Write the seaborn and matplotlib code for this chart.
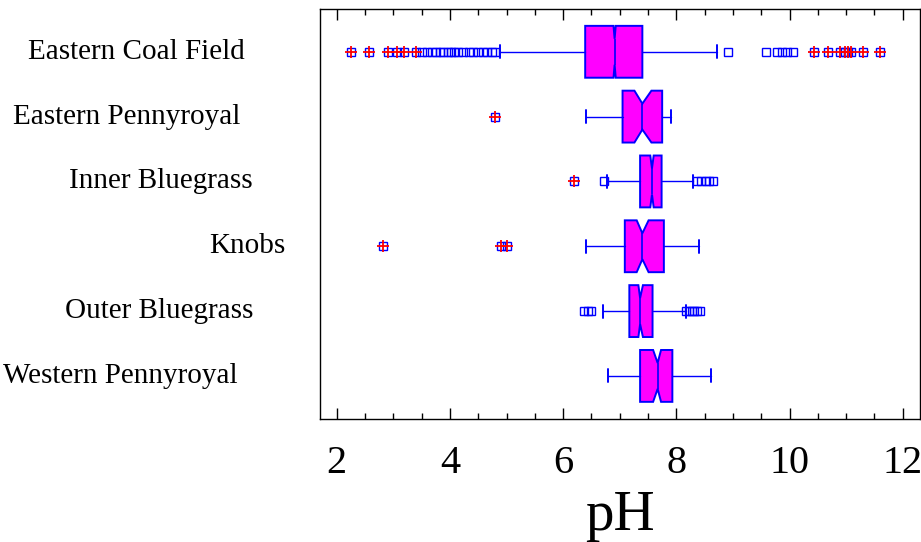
import matplotlib
matplotlib.use("Agg")
import matplotlib.pyplot as plt
import matplotlib.transforms as mtrans
from matplotlib.ticker import MultipleLocator
import seaborn as sns

# ---- data ----
regions = ["Eastern Coal Field", "Eastern Pennyroyal", "Inner Bluegrass",
           "Knobs", "Outer Bluegrass", "Western Pennyroyal"]
q1 = [6.39, 7.05, 7.36, 7.09, 7.17, 7.36]
median = [6.91, 7.40, 7.57, 7.40, 7.36, 7.67]
q3 = [7.40, 7.75, 7.74, 7.78, 7.58, 7.93]
notch_lo = [6.89, 7.26, 7.54, 7.30, 7.33, 7.59]
notch_hi = [6.93, 7.56, 7.60, 7.51, 7.41, 7.73]
whisker_lo = [4.89, 6.40, 6.77, 6.40, 6.70, 6.79]
whisker_hi = [8.72, 7.91, 8.30, 8.40, 8.17, 8.61]

# mild outliers (squares only)
mild_outliers = [
    [3.50, 3.59, 3.68, 3.76, 3.82, 3.88, 3.97, 4.02, 4.07, 4.15, 4.24, 4.34,
     4.41, 4.50, 4.58, 4.65, 4.74, 4.80,
     8.92, 9.58, 9.78, 9.87, 9.95, 10.07],
    [],
    [6.73, 8.36, 8.44, 8.52, 8.58, 8.65],
    [],
    [6.37, 6.44, 6.50, 8.17, 8.22, 8.27, 8.32, 8.37, 8.41],
    [],
]
# extreme outliers (squares with a red plus)
far_outliers = [
    [2.25, 2.57, 2.91, 3.06, 3.19, 3.40,
     10.43, 10.68, 10.89, 10.98, 11.04, 11.08, 11.29, 11.59],
    [4.80],
    [6.20],
    [2.81, 4.90, 5.01],
    [],
    [],
]

# ---- style ----
sns.set_style("white")
plt.rcParams["font.family"] = ["Liberation Serif", "DejaVu Serif"]
plt.rcParams["text.color"] = "black"
plt.rcParams["axes.labelcolor"] = "black"
plt.rcParams["xtick.color"] = "black"
plt.rcParams["ytick.color"] = "black"

fig = plt.figure(figsize=(9.21, 5.42), dpi=100)
ax = fig.add_axes([320 / 921, 1 - 418.7 / 542, 600 / 921, 409.7 / 542])

positions = list(range(len(regions)))
stats = []
for i in positions:
    stats.append(dict(
        med=median[i], q1=q1[i], q3=q3[i],
        cilo=notch_lo[i], cihi=notch_hi[i],
        whislo=whisker_lo[i], whishi=whisker_hi[i],
        fliers=mild_outliers[i] + far_outliers[i],
        label=regions[i],
    ))

blue = "#0000ff"
ax.bxp(stats, positions=positions, widths=0.8, capwidths=0.2,
       orientation="horizontal", shownotches=True, patch_artist=True,
       manage_ticks=False,
       boxprops=dict(facecolor="#ff00ff", edgecolor=blue, linewidth=1.4),
       medianprops=dict(color=blue, linewidth=1.2),
       whiskerprops=dict(color=blue, linewidth=1.0),
       capprops=dict(color=blue, linewidth=1.4),
       flierprops=dict(marker="s", markerfacecolor="none",
                       markeredgecolor=blue, markersize=5.2,
                       markeredgewidth=1.0, linestyle="none"))

for i in positions:
    if far_outliers[i]:
        ax.plot(far_outliers[i], [i] * len(far_outliers[i]),
                linestyle="none", marker="+", color="red",
                markersize=8, markeredgewidth=1.3, zorder=5)

ax.set_xlim(1.705, 12.305)
ax.set_ylim(5.66, -0.66)
ax.set_yticks([])
ax.xaxis.set_major_locator(MultipleLocator(2))
ax.xaxis.set_minor_locator(MultipleLocator(0.5))
ax.tick_params(axis="x", which="both", direction="in", top=True,
               bottom=True, color="black", width=1.0, labelcolor="black")
ax.tick_params(axis="x", which="major", length=8, labelsize=29, pad=19)
ax.tick_params(axis="x", which="minor", length=4)
for sp in ax.spines.values():
    sp.set_color("black")
    sp.set_linewidth(1.0)
    sp.set_visible(True)

ax.set_xlabel("pH", fontsize=41, labelpad=6, color="black")

# category labels (right edges in pixels, as in the reference)
label_right_px = [245, 240, 253, 285, 253, 238]
trans = mtrans.blended_transform_factory(fig.transFigure, ax.transData)
for i, name in enumerate(regions):
    ax.text(label_right_px[i] / 921, i, name, transform=trans,
            ha="right", va="center", fontsize=21, color="black",
            clip_on=False)

fig.savefig("out.png", dpi=100)
